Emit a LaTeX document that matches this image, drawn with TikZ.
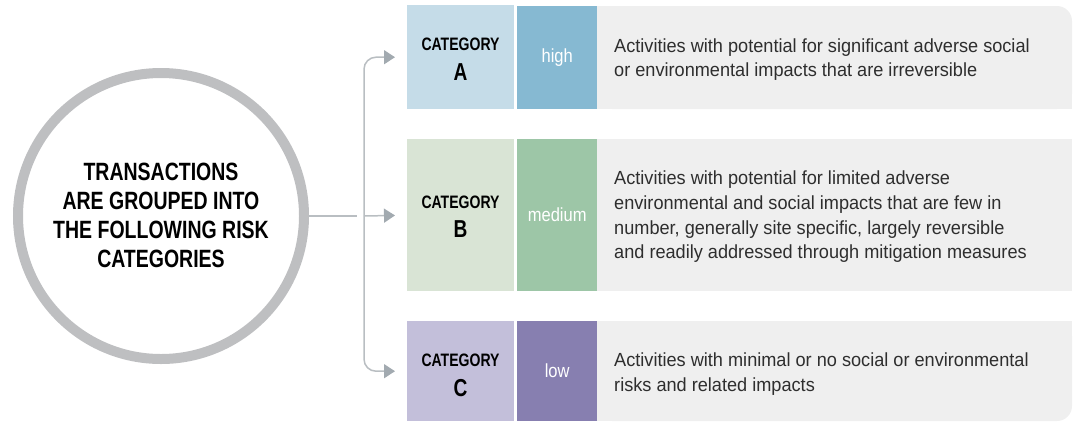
\documentclass[tikz,border=0pt]{standalone}
\usepackage{fontspec}
\setmainfont{Liberation Sans}
\newfontfamily\descfont{Liberation Sans}[FakeStretch=0.955]
\newfontfamily\riskfont{Liberation Sans}[FakeStretch=0.87]
\newfontfamily\condfont{Liberation Sans}[FakeStretch=0.78]
\usetikzlibrary{arrows.meta}
\definecolor{ringgray}{HTML}{BEBFC1}
\definecolor{linegray}{HTML}{B9BEC2}
\definecolor{tipgray}{HTML}{A2AAB0}
\definecolor{descbg}{HTML}{EFEFEF}
\definecolor{catA}{HTML}{C5DCE8}
\definecolor{riskA}{HTML}{86B9D2}
\definecolor{catB}{HTML}{D9E4D5}
\definecolor{riskB}{HTML}{9DC6A7}
\definecolor{catC}{HTML}{C3BFDA}
\definecolor{riskC}{HTML}{877FB0}
\definecolor{desctext}{HTML}{2E2E2E}
\tikzset{
  catbox/.style={anchor=north west, minimum width=107pt, inner sep=0pt},
  catlbl/.style={anchor=base, inner sep=0pt, font=\condfont\bfseries\fontsize{18}{20}\selectfont},
  catletter/.style={anchor=base, inner sep=0pt, font=\condfont\bfseries\fontsize{24.5}{26}\selectfont},
  riskbox/.style={anchor=north west, minimum width=80pt, inner sep=0pt, text=white, font=\riskfont\fontsize{19}{21}\selectfont},
  descbox/.style={anchor=north west, minimum width=475pt, inner sep=0pt},
  desctxt/.style={anchor=west, align=left, inner sep=0pt, text=desctext, font=\descfont\fontsize{19}{24.7}\selectfont},
  conn/.style={draw=linegray, line width=1.5pt},
  arr/.style={conn, rounded corners=12pt, -{Triangle[length=11pt,width=14pt,color=tipgray]}, shorten >=12pt},
}
\begin{document}
\begin{tikzpicture}[x=1pt,y=-1pt]
\useasboundingbox (0,0) rectangle (1073,421);

% circle
\node[circle, draw=ringgray, line width=10pt, minimum size=286pt, inner sep=0pt] (circ) at (161,216) {};
\node[align=center, inner sep=0pt, font=\condfont\bfseries\fontsize{25}{29}\selectfont] (ctext) at (161,215)
  {TRANSACTIONS\\ARE GROUPED INTO\\THE FOLLOWING RISK\\CATEGORIES};

% description backgrounds
\fill[descbg, rounded corners=15pt] (597,6) rectangle (1072,109);
\fill[descbg] (597,6) rectangle (1040,109);
\fill[descbg] (597,40) rectangle (1072,109);
\fill[descbg] (597,139) rectangle (1072,291);
\fill[descbg, rounded corners=15pt] (597,321) rectangle (1072,421);
\fill[descbg] (597,321) rectangle (1040,421);
\fill[descbg] (597,321) rectangle (1072,390);

% category A
\node[catbox, fill=catA, minimum height=104pt] (ca) at (407,5) {};
\node[catlbl] (la) at (460.5,50) {CATEGORY};
\node[catletter] (xa) at (460.5,80) {A};
\node[riskbox, fill=riskA, minimum height=103pt] (ra) at (517,6) {high};
\node[descbox, minimum height=103pt] (da) at (597,6) {};
\node[desctxt] (ta) at (614,59.5) {Activities with potential for significant adverse social\\or environmental impacts that are irreversible};

% category B
\node[catbox, fill=catB, minimum height=152pt] (cb) at (407,139) {};
\node[catlbl] (lb) at (460.5,208) {CATEGORY};
\node[catletter] (xb) at (460.5,237) {B};
\node[riskbox, fill=riskB, minimum height=152pt] (rb) at (517,139) {medium};
\node[descbox, minimum height=152pt] (db) at (597,139) {};
\node[desctxt] (tb) at (614,217) {Activities with potential for limited adverse\\environmental and social impacts that are few in\\number, generally site specific, largely reversible\\and readily addressed through mitigation measures};

% category C
\node[catbox, fill=catC, minimum height=100pt] (cc) at (407,321) {};
\node[catlbl] (lc) at (460.5,366) {CATEGORY};
\node[catletter] (xc) at (460.5,396) {C};
\node[riskbox, fill=riskC, minimum height=100pt] (rc) at (517,321) {low};
\node[descbox, minimum height=100pt] (dc) at (597,321) {};
\node[desctxt] (tc) at (614,374) {Activities with minimal or no social or environmental\\risks and related impacts};

% connectors
\coordinate (jn) at (357,216);
\coordinate (sp) at (364,216);
\draw[conn] (circ.east) -- (jn);
\draw[arr] (sp) |- (ca.west);
\draw[arr] (sp) -- (cb.west);
\draw[arr] (sp) |- (cc.west);
\end{tikzpicture}
\end{document}
